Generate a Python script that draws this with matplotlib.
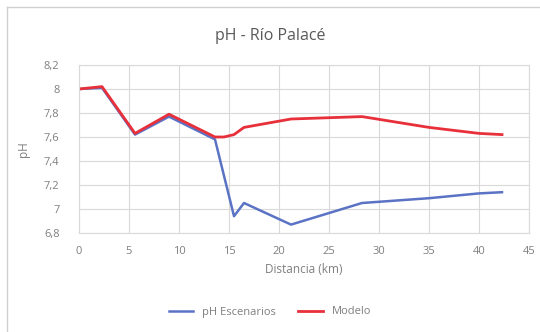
import matplotlib
matplotlib.use("Agg")
import matplotlib.pyplot as plt
from matplotlib.lines import Line2D

# Distance along the river (km) and pH values
dist_esc = [0, 2.3, 5.6, 9.0, 13.6, 15.5, 16.5, 21.2, 28.3, 35.0, 40.0, 42.3]
ph_esc = [8.00, 8.01, 7.62, 7.77, 7.58, 6.94, 7.05, 6.87, 7.05, 7.09, 7.13, 7.14]

dist_mod = [0, 2.3, 5.6, 9.0, 13.6, 14.5, 15.5, 16.5, 21.2, 28.3, 35.0, 40.0, 42.3]
ph_mod = [8.00, 8.02, 7.63, 7.79, 7.60, 7.60, 7.62, 7.68, 7.75, 7.77, 7.68, 7.63, 7.62]

x_ticks = [0, 5, 10, 15, 20, 25, 30, 35, 40, 45]
y_ticks = [6.8, 7.0, 7.2, 7.4, 7.6, 7.8, 8.0, 8.2]
y_labels = ["6,8", "7", "7,2", "7,4", "7,6", "7,8", "8", "8,2"]

blue = "#5B73C4"
red = "#E8303A"
text_gray = "#7f7f7f"
grid_gray = "#d9d9d9"

plt.rcParams['font.family'] = ['Open Sans', 'DejaVu Sans']

fig = plt.figure(figsize=(5.4, 3.32), dpi=100)
fig.patch.set_facecolor("white")

# chart-area frame
fig.add_artist(Line2D([7/540, 7/540], [0, 1 - 7/332], transform=fig.transFigure,
                      color="#d0d0d0", lw=1))
fig.add_artist(Line2D([7/540, 1], [1 - 7/332, 1 - 7/332], transform=fig.transFigure,
                      color="#d0d0d0", lw=1))

ax = fig.add_axes([79/540, 1 - 233/332, 450/540, 168/332])
ax.plot(dist_esc, ph_esc, color=blue, lw=1.8, label="pH Escenarios")
ax.plot(dist_mod, ph_mod, color=red, lw=2.0, label="Modelo")

ax.set_xlim(0, 45)
ax.set_ylim(6.8, 8.2)
ax.set_xticks(x_ticks)
ax.set_yticks(y_ticks)
ax.set_yticklabels(y_labels)
ax.grid(True, color=grid_gray, lw=0.8)
ax.set_axisbelow(True)
for s in ax.spines.values():
    s.set_color(grid_gray)
    s.set_linewidth(0.8)
ax.tick_params(length=0, colors=text_gray, labelsize=8)
ax.tick_params(axis="y", pad=14)
ax.tick_params(axis="x", pad=9)

ax.set_xlabel("Distancia (km)", color=text_gray, fontsize=8.5, labelpad=5)
ax.set_ylabel("pH", color=text_gray, fontsize=8.5, labelpad=10)
fig.text(0.5, 1 - 36/332, "pH - Río Palacé", ha="center", va="center",
         color="#595959", fontsize=11.5)

fig.legend(loc="center", bbox_to_anchor=(0.5, 1 - 312/332), ncol=2,
           frameon=False, fontsize=8, labelcolor=text_gray,
           handlelength=2.2, columnspacing=2.0)

fig.savefig("out.png", dpi=100, facecolor="white")
